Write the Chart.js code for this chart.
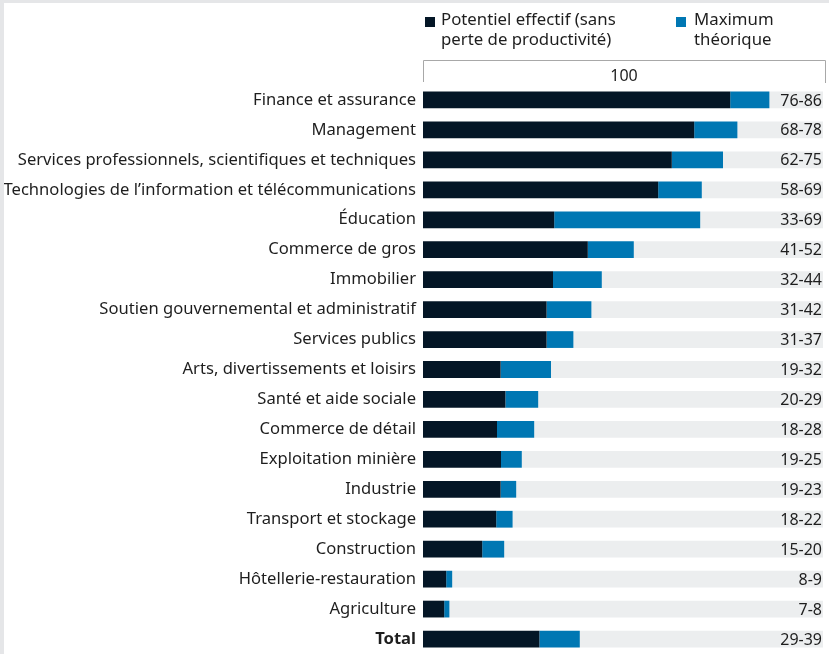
<!DOCTYPE html>
<html lang="fr">
<head>
<meta charset="utf-8">
<script src="https://cdn.jsdelivr.net/npm/chart.js@4"></script>
<style>
  html, body { margin: 0; padding: 0; background: #e5e6e8; overflow: hidden; }
  #wrap { position: absolute; left: 4px; top: 3px; width: 825px; height: 651px; background: #ffffff; }
  canvas { display: block; }
</style>
</head>
<body>
<div id="wrap"><canvas id="c" width="825" height="651" style="width:825px;height:651px"></canvas></div>
<script>
const categories = [
  "Finance et assurance",
  "Management",
  "Services professionnels, scientifiques et techniques",
  "Technologies de l’information et télécommunications",
  "Éducation",
  "Commerce de gros",
  "Immobilier",
  "Soutien gouvernemental et administratif",
  "Services publics",
  "Arts, divertissements et loisirs",
  "Santé et aide sociale",
  "Commerce de détail",
  "Exploitation minière",
  "Industrie",
  "Transport et stockage",
  "Construction",
  "Hôtellerie-restauration",
  "Agriculture",
  "Total"
];
// Potentiel effectif (sans perte de productivité), % (bar lengths)
const effective = [76.8, 67.8, 62.2, 58.8, 32.8, 41.2, 32.5, 30.9, 30.9, 19.4, 20.6, 18.5, 19.5, 19.4, 18.3, 14.8, 5.8, 5.3, 29.1];
// Maximum théorique, %
const maximum = [86.6, 78.6, 75.0, 69.7, 69.3, 52.7, 44.7, 42.1, 37.6, 32.0, 28.8, 27.8, 24.7, 23.3, 22.4, 20.3, 7.3, 6.6, 39.2];
// Range labels shown at the right
const rangeLabels = ["76-86", "68-78", "62-75", "58-69", "33-69", "41-52", "32-44", "31-42", "31-37", "19-32", "20-29", "18-28", "19-25", "19-23", "18-22", "15-20", "8-9", "7-8", "29-39"];
const scaleMax = 100;
const legendLabels = [["Potentiel effectif (sans", "perte de productivité)"], ["Maximum", "théorique"]];

const NAVY = "#041626", BLUE = "#0077b3", GREY = "#eceeef", TEXT = "#1e1e1e";
const FONT = "'Noto Sans', 'Open Sans', sans-serif";

const gap = maximum.map((m, i) => m - effective[i]);
const rest = maximum.map(m => scaleMax - m);

const overlay = {
  id: "overlay",
  afterDatasetsDraw(chart) {
    const ctx = chart.ctx;
    const x = chart.scales.x;
    const meta = chart.getDatasetMeta(0);
    ctx.save();
    // right-hand range labels
    ctx.fillStyle = TEXT;
    ctx.textAlign = "right";
    ctx.textBaseline = "middle";
    ctx.font = "16px " + FONT;
    meta.data.forEach((bar, i) => {
      ctx.fillText(rangeLabels[i], x.getPixelForValue(scaleMax) - 1, bar.y + 1);
    });
    // "100" bracket
    const x0 = x.getPixelForValue(0), x1 = x.getPixelForValue(scaleMax) + 2;
    ctx.strokeStyle = "#a8a8a8";
    ctx.lineWidth = 1;
    ctx.beginPath();
    ctx.moveTo(x0 + 0.5, 79);
    ctx.lineTo(x0 + 0.5, 57.5);
    ctx.lineTo(x1 + 0.5, 57.5);
    ctx.lineTo(x1 + 0.5, 80);
    ctx.stroke();
    ctx.textAlign = "center";
    ctx.fillText(String(scaleMax), (x0 + x1) / 2, 73);
    // legend
    const items = [{ c: NAVY, sx: 421, tx: 437 }, { c: BLUE, sx: 672, tx: 690 }];
    ctx.textAlign = "left";
    ctx.font = "16.8px " + FONT;
    items.forEach((it, k) => {
      ctx.fillStyle = it.c;
      ctx.fillRect(it.sx, 14, 10, 10);
      ctx.fillStyle = TEXT;
      ctx.fillText(legendLabels[k][0], it.tx, 17);
      ctx.fillText(legendLabels[k][1], it.tx, 37);
    });
    ctx.restore();
  }
};

new Chart(document.getElementById("c"), {
  type: "bar",
  data: {
    labels: categories,
    datasets: [
      { label: "Potentiel effectif", data: effective, backgroundColor: NAVY },
      { label: "Maximum théorique", data: gap, backgroundColor: BLUE },
      { label: "Reste", data: rest, backgroundColor: GREY }
    ]
  },
  options: {
    indexAxis: "y",
    responsive: false,
    animation: false,
    devicePixelRatio: 1,
    layout: { padding: { top: 82, right: 6, bottom: 0, left: 0 } },
    datasets: { bar: { barPercentage: 0.56, categoryPercentage: 1, borderWidth: 0 } },
    plugins: { legend: { display: false }, tooltip: { enabled: false } },
    scales: {
      x: { stacked: true, min: 0, max: scaleMax, display: false },
      y: {
        stacked: true,
        grid: { display: false, drawTicks: false, tickLength: 0 },
        border: { display: false },
        ticks: {
          color: TEXT,
          padding: 7,
          font: (c) => ({ family: FONT, size: 16.6, weight: c.index === categories.length - 1 ? "bold" : "normal" })
        },
        afterFit(scale) {
          scale.width = 419;
          scale.paddingTop = 0;
          scale.paddingBottom = 0;
        }
      }
    }
  },
  plugins: [overlay]
});
</script>
</body>
</html>
